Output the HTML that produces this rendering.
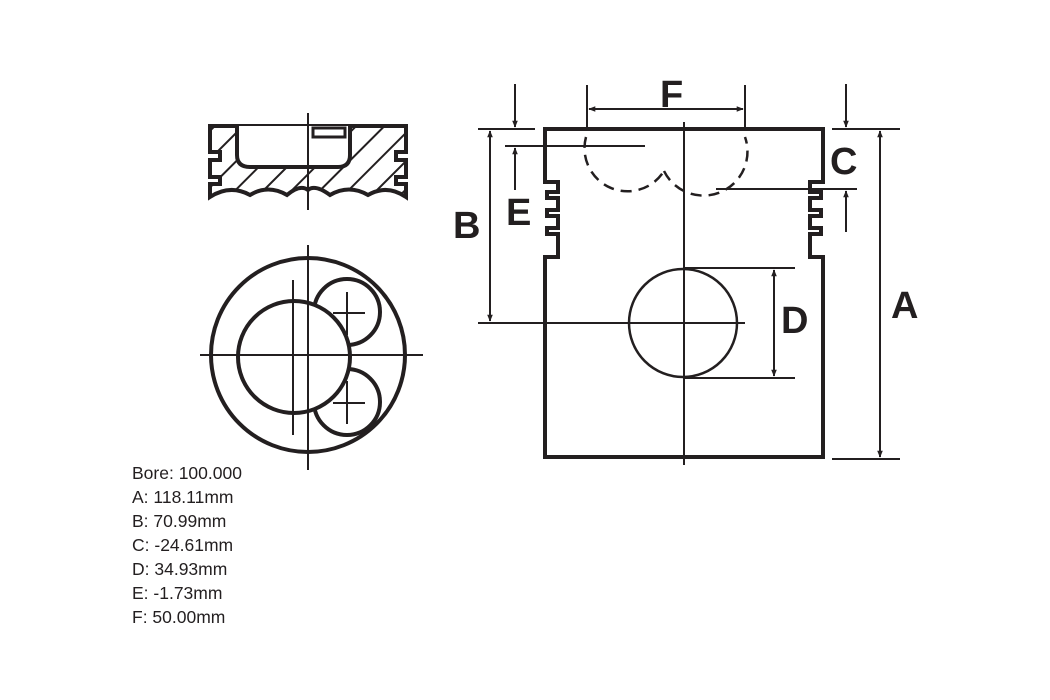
<!DOCTYPE html>
<html><head><meta charset="utf-8"><style>
html,body{margin:0;padding:0;background:#fff;width:1050px;height:700px;overflow:hidden}
svg{display:block}
.t{font-family:"Liberation Sans",sans-serif;font-size:17.5px;fill:#231f20}
.L{font-family:"Liberation Sans",sans-serif;font-size:38px;font-weight:bold;fill:#231f20}
</style></head><body>
<svg width="1050" height="700" viewBox="0 0 1050 700" xmlns="http://www.w3.org/2000/svg">
<defs>
<marker id="ar" viewBox="0 0 10 10" refX="9" refY="5" markerWidth="7" markerHeight="7" orient="auto-start-reverse" markerUnits="userSpaceOnUse"><path d="M0,1 L10,5 L0,9 z" fill="#231f20"/></marker>
<pattern id="h" width="20" height="20" patternUnits="userSpaceOnUse" patternTransform="rotate(45)"><line x1="0" y1="0" x2="0" y2="20" stroke="#231f20" stroke-width="4"/></pattern>
</defs>
<g stroke="#231f20" fill="none">
<path d="M210,126 H406 V152 H396 V160 H406 V177 H396 V184 H406 V197 Q387,184 368,195 Q349,184 330,195 Q315,184 308,190 Q300,184 287,195 Q268,184 250,195 Q230,184 210,197 V184 H220 V177 H210 V160 H220 V152 H210 Z" fill="url(#h)" stroke-width="4"/>
<path d="M237,126 V155 Q237,167 250,167 H338 Q350,167 350,155 V126" fill="#fff" stroke-width="4"/>
<rect x="313" y="128" width="32" height="9" fill="#fff" stroke-width="3"/>
<line x1="308" y1="113" x2="308" y2="210" stroke-width="2"/>
<circle cx="308" cy="355" r="97" stroke-width="4"/>
<circle cx="347" cy="312" r="33" stroke-width="4" fill="#fff"/>
<circle cx="347" cy="402" r="33" stroke-width="4" fill="#fff"/>
<line x1="333" y1="313" x2="365" y2="313" stroke-width="2"/><line x1="347" y1="292" x2="347" y2="335" stroke-width="2"/>
<line x1="333" y1="403" x2="365" y2="403" stroke-width="2"/><line x1="347" y1="381" x2="347" y2="424" stroke-width="2"/>
<circle cx="294" cy="357" r="56" stroke-width="4" fill="#fff"/>
<line x1="308" y1="245" x2="308" y2="470" stroke-width="2"/>
<line x1="200" y1="355" x2="423" y2="355" stroke-width="2"/>
<line x1="293" y1="280" x2="293" y2="435" stroke-width="2"/>
<path d="M545,457 V257 H558 V234 H547 V228 H558 V216 H547 V210 H558 V198 H547 V192 H558 V182 H545 V129 H823 V182 H810 V192 H821 V198 H810 V210 H821 V216 H810 V228 H821 V234 H810 V257 H823 V457 Z" stroke-width="4"/>
<path d="M586,137 A43,43 0 0 0 664,171" stroke-width="2.5" stroke-dasharray="11,7"/>
<path d="M664,171 A44,44 0 0 0 745,137" stroke-width="2.5" stroke-dasharray="11,7"/>
<line x1="684" y1="122" x2="684" y2="465" stroke-width="2"/>
<line x1="478" y1="323" x2="745" y2="323" stroke-width="2"/>
<circle cx="683" cy="323" r="54" stroke-width="2.5"/>
<line x1="684" y1="268" x2="795" y2="268" stroke-width="2"/>
<line x1="684" y1="378" x2="795" y2="378" stroke-width="2"/>
<line x1="774" y1="270" x2="774" y2="376" stroke-width="2" marker-start="url(#ar)" marker-end="url(#ar)"/>
<line x1="478" y1="129" x2="535" y2="129" stroke-width="2"/>
<line x1="490" y1="131" x2="490" y2="321" stroke-width="2" marker-start="url(#ar)" marker-end="url(#ar)"/>
<line x1="505" y1="146" x2="645" y2="146" stroke-width="2"/>
<line x1="515" y1="190" x2="515" y2="148" stroke-width="2" marker-end="url(#ar)"/>
<line x1="515" y1="84" x2="515" y2="127" stroke-width="2" marker-end="url(#ar)"/>
<line x1="587" y1="85" x2="587" y2="130" stroke-width="2"/>
<line x1="745" y1="85" x2="745" y2="130" stroke-width="2"/>
<line x1="589" y1="109" x2="743" y2="109" stroke-width="2" marker-start="url(#ar)" marker-end="url(#ar)"/>
<line x1="832" y1="129" x2="900" y2="129" stroke-width="2"/>
<line x1="846" y1="84" x2="846" y2="127" stroke-width="2" marker-end="url(#ar)"/>
<line x1="716" y1="189" x2="857" y2="189" stroke-width="2"/>
<line x1="846" y1="232" x2="846" y2="191" stroke-width="2" marker-end="url(#ar)"/>
<line x1="832" y1="459" x2="900" y2="459" stroke-width="2"/>
<line x1="880" y1="131" x2="880" y2="457" stroke-width="2" marker-start="url(#ar)" marker-end="url(#ar)"/>
</g>
<text class="L" x="453" y="238">B</text>
<text class="L" x="506" y="225">E</text>
<text class="L" x="660" y="107">F</text>
<text class="L" x="830" y="174">C</text>
<text class="L" x="781" y="333">D</text>
<text class="L" x="891" y="318">A</text>
<text class="t" x="132" y="479">Bore: 100.000</text>
<text class="t" x="132" y="503">A: 118.11mm</text>
<text class="t" x="132" y="527">B: 70.99mm</text>
<text class="t" x="132" y="551">C: -24.61mm</text>
<text class="t" x="132" y="575">D: 34.93mm</text>
<text class="t" x="132" y="599">E: -1.73mm</text>
<text class="t" x="132" y="623">F: 50.00mm</text>
</svg>
</body></html>
